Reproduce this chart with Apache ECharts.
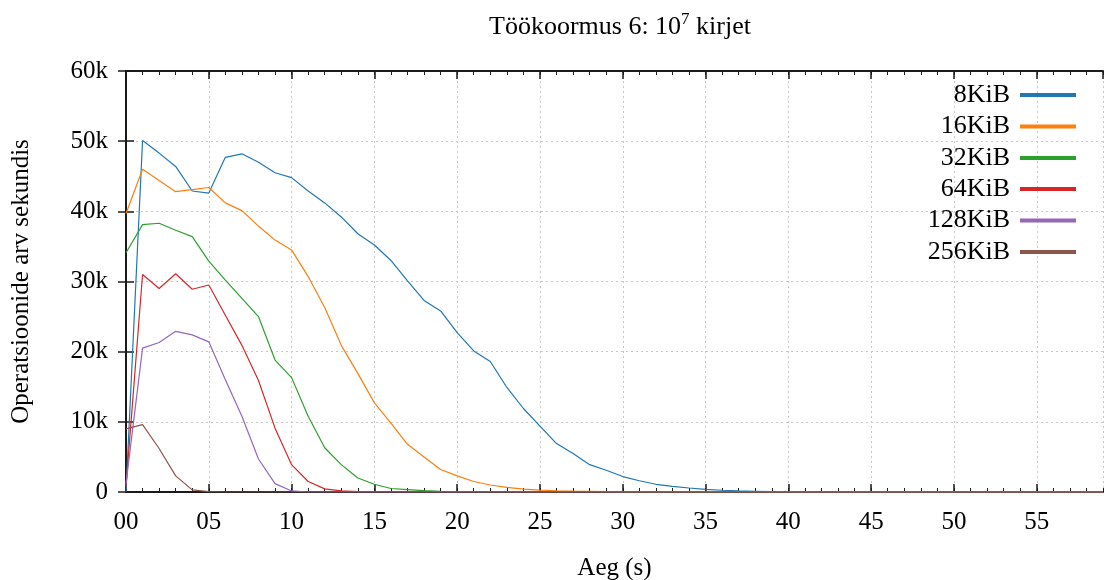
<!DOCTYPE html>
<html>
<head>
<meta charset="utf-8">
<script src="https://cdn.jsdelivr.net/npm/echarts@6/dist/echarts.min.js"></script>
<style>html,body{margin:0;padding:0;background:#fff;}#c{width:1106px;height:580px;}</style>
</head>
<body>
<div id="c"></div>
<script>
const seconds = [];
for (let i = 0; i <= 59; i++) seconds.push(i);

const seriesNames = ['8KiB', '16KiB', '32KiB', '64KiB', '128KiB', '256KiB'];
const seriesColors = ['#1f77b4', '#ff7f0e', '#2ca02c', '#d62728', '#9467bd', '#8c564b'];

const kib8 = [0, 50100, 48300, 46400, 42900, 42600, 47700, 48200, 47000, 45500, 44800, 42900, 41200, 39200, 36800, 35200, 33000, 30100, 27300, 25800, 22700, 20100, 18600, 14900, 11900, 9400, 6900, 5500, 3900, 3100, 2200, 1600, 1100, 800, 570, 380, 250, 150, 100, 50, 20, 0, 0, 0, 0, 0, 0, 0, 0, 0, 0, 0, 0, 0, 0, 0, 0, 0, 0, 0];
const kib16 = [39700, 46000, 44400, 42800, 43100, 43400, 41200, 40100, 37900, 35900, 34500, 30700, 26300, 20900, 16900, 12700, 9800, 6800, 5000, 3200, 2300, 1500, 1000, 670, 400, 280, 180, 120, 80, 50, 30, 0, 0, 0, 0, 0, 0, 0, 0, 0, 0, 0, 0, 0, 0, 0, 0, 0, 0, 0, 0, 0, 0, 0, 0, 0, 0, 0, 0, 0];
const kib32 = [34100, 38100, 38300, 37300, 36400, 32900, 30200, 27600, 25000, 18800, 16300, 10800, 6300, 3900, 2000, 1100, 500, 350, 200, 100, 50, 0, 0, 0, 0, 0, 0, 0, 0, 0, 0, 0, 0, 0, 0, 0, 0, 0, 0, 0, 0, 0, 0, 0, 0, 0, 0, 0, 0, 0, 0, 0, 0, 0, 0, 0, 0, 0, 0, 0];
const kib64 = [800, 31000, 29000, 31100, 28900, 29500, 25200, 20900, 15900, 9100, 3900, 1500, 450, 150, 50, 0, 0, 0, 0, 0, 0, 0, 0, 0, 0, 0, 0, 0, 0, 0, 0, 0, 0, 0, 0, 0, 0, 0, 0, 0, 0, 0, 0, 0, 0, 0, 0, 0, 0, 0, 0, 0, 0, 0, 0, 0, 0, 0, 0, 0];
const kib128 = [1200, 20500, 21300, 22900, 22400, 21400, 16000, 10800, 4700, 1200, 150, 0, 0, 0, 0, 0, 0, 0, 0, 0, 0, 0, 0, 0, 0, 0, 0, 0, 0, 0, 0, 0, 0, 0, 0, 0, 0, 0, 0, 0, 0, 0, 0, 0, 0, 0, 0, 0, 0, 0, 0, 0, 0, 0, 0, 0, 0, 0, 0, 0];
const kib256 = [9000, 9600, 6200, 2300, 300, 50, 0, 0, 0, 0, 0, 0, 0, 0, 0, 0, 0, 0, 0, 0, 0, 0, 0, 0, 0, 0, 0, 0, 0, 0, 0, 0, 0, 0, 0, 0, 0, 0, 0, 0, 0, 0, 0, 0, 0, 0, 0, 0, 0, 0, 0, 0, 0, 0, 0, 0, 0, 0, 0, 0];
const allValues = [kib8, kib16, kib32, kib64, kib128, kib256];

const titleParts = ['Töökoormus 6: 10', '7', ' kirjet'];
const xName = 'Aeg (s)';
const yName = 'Operatsioonide arv sekundis';

const FONT = 'Liberation Serif';
const AXC = '#1a1a1a';
const GRIDC = '#c8c8c8';

function xFmt(v) { return (v < 10 ? '0' : '') + v; }
function yFmt(v) { return v === 0 ? '0' : (v / 1000) + 'k'; }

const baseX = { type: 'value', min: 0, max: 59, gridIndex: 0 };
const xAxes = [
  Object.assign({}, baseX, {
    position: 'bottom', interval: 5,
    name: xName, nameLocation: 'middle', nameGap: 64,
    nameTextStyle: { fontFamily: FONT, fontSize: 25, color: '#000' },
    axisLine: { show: true, lineStyle: { color: AXC, width: 2 } },
    axisTick: { show: true, inside: true, length: 8, lineStyle: { color: AXC, width: 1.5 } },
    axisLabel: { show: true, formatter: xFmt, showMaxLabel: false, margin: 18, fontFamily: FONT, fontSize: 25, color: '#000' },
    splitLine: { show: true, lineStyle: { color: GRIDC, type: [2, 3], width: 1 } }
  }),
  Object.assign({}, baseX, {
    position: 'bottom', interval: 1,
    axisLine: { show: false },
    axisTick: { show: true, inside: true, length: 4, lineStyle: { color: AXC, width: 1 } },
    axisLabel: { show: false }, splitLine: { show: false }
  }),
  Object.assign({}, baseX, {
    position: 'top', interval: 5,
    axisLine: { show: true, lineStyle: { color: AXC, width: 2 } },
    axisTick: { show: true, inside: true, length: 8, lineStyle: { color: AXC, width: 1.5 } },
    axisLabel: { show: false }, splitLine: { show: false }
  }),
  Object.assign({}, baseX, {
    position: 'top', interval: 1,
    axisLine: { show: false },
    axisTick: { show: true, inside: true, length: 4, lineStyle: { color: AXC, width: 1 } },
    axisLabel: { show: false }, splitLine: { show: false }
  })
];

const baseY = { type: 'value', min: 0, max: 60000, interval: 10000, gridIndex: 0 };
const yAxes = [
  Object.assign({}, baseY, {
    position: 'left',
    name: yName, nameLocation: 'middle', nameGap: 92,
    nameTextStyle: { fontFamily: FONT, fontSize: 25, color: '#000' },
    axisLine: { show: true, lineStyle: { color: AXC, width: 2 } },
    axisTick: { show: true, inside: true, length: 8, lineStyle: { color: AXC, width: 1.5 } },
    axisLabel: { show: true, formatter: yFmt, margin: 18, fontFamily: FONT, fontSize: 25, color: '#000' },
    splitLine: { show: true, lineStyle: { color: GRIDC, type: [2, 3], width: 1 } }
  }),
  Object.assign({}, baseY, {
    position: 'right',
    axisLine: { show: true, lineStyle: { color: AXC, width: 2 } },
    axisTick: { show: true, inside: true, length: 8, lineStyle: { color: AXC, width: 1.5 } },
    axisLabel: { show: false }, splitLine: { show: false }
  })
];

const series = seriesNames.map((name, i) => ({
  name: name,
  type: 'line',
  xAxisIndex: 0, yAxisIndex: 0,
  data: seconds.map((s, j) => [s, allValues[i][j]]),
  showSymbol: false, symbol: 'none',
  lineStyle: { color: seriesColors[i], width: 1.2 },
  itemStyle: { color: seriesColors[i] },
  z: 2 + i
}));

const legendCenters = [95, 126.5, 158, 189, 220.5, 252];
const legends = seriesNames.map((name, i) => ({
  data: [name],
  orient: 'vertical',
  right: 30, top: legendCenters[i] - 13,
  padding: 0,
  align: 'right',
  icon: 'rect',
  itemWidth: 56, itemHeight: 4,
  selectedMode: false,
  textStyle: { fontFamily: FONT, fontSize: 26, lineHeight: 26, color: '#000', padding: [0, 5, 0, 0] }
}));

const chart = echarts.init(document.getElementById('c'), null, { renderer: 'canvas' });
chart.setOption({
  animation: false,
  backgroundColor: '#fff',
  title: {
    text: '{a|' + titleParts[0] + '}{s|' + titleParts[1] + '}{a|' + titleParts[2] + '}',
    left: 615, top: 6, textAlign: 'center',
    textStyle: {
      fontWeight: 'normal',
      rich: {
        a: { fontFamily: FONT, fontSize: 26, fontWeight: 'normal', color: '#000', verticalAlign: 'bottom' },
        s: { fontFamily: FONT, fontSize: 17, fontWeight: 'normal', color: '#000', verticalAlign: 'bottom', padding: [0, 0, 12, 0] }
      }
    }
  },
  grid: { left: 126, right: 3, top: 71, bottom: 88, containLabel: false, outerBoundsMode: 'none' },
  legend: legends,
  xAxis: xAxes,
  yAxis: yAxes,
  series: series
});
</script>
</body>
</html>
